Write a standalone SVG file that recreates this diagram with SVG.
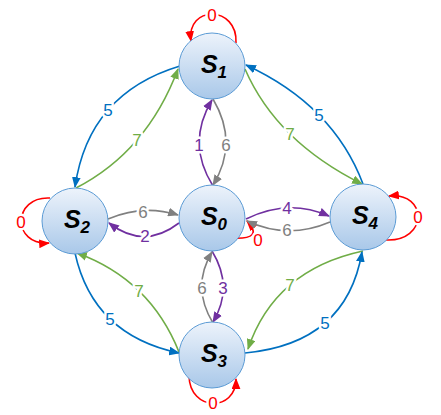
<svg xmlns="http://www.w3.org/2000/svg" width="441" height="415" viewBox="0 0 441 415">
<style>
.e{fill:none;stroke-width:1.6}
.r{stroke:#ff0000}.b{stroke:#0070c0}.g{stroke:#70ad47}.p{stroke:#7030a0}.k{stroke:#808080}
.l{font-family:"Liberation Sans",Arial,sans-serif;font-size:17px;text-anchor:middle;stroke:#fff;stroke-width:5;paint-order:stroke;stroke-linejoin:round}
.lr{fill:#ff0000}.lb{fill:#0070c0}.lg{fill:#70ad47}.lp{fill:#7030a0}.lk{fill:#808080}
.n{fill:url(#grad);stroke:#5b9bd5;stroke-width:1}
.t{font-family:"Liberation Sans",Arial,sans-serif;font-weight:bold;font-style:italic;font-size:25px;text-anchor:middle;fill:#000}
.s{font-size:17px}
</style>
<defs>
<linearGradient id="grad" x1="0" y1="0" x2="0" y2="1">
<stop offset="0" stop-color="#edf3fb"/>
<stop offset="1" stop-color="#a9c8e9"/>
</linearGradient>
<marker id="ar" viewBox="0 0 10 8" refX="9" refY="4" markerWidth="11" markerHeight="9" markerUnits="userSpaceOnUse" orient="auto"><path d="M0,0 L10,4 L0,8 z" fill="#ff0000"/></marker>
<marker id="ab" viewBox="0 0 10 8" refX="9" refY="4" markerWidth="11" markerHeight="9" markerUnits="userSpaceOnUse" orient="auto"><path d="M0,0 L10,4 L0,8 z" fill="#0070c0"/></marker>
<marker id="ag" viewBox="0 0 10 8" refX="9" refY="4" markerWidth="11" markerHeight="9" markerUnits="userSpaceOnUse" orient="auto"><path d="M0,0 L10,4 L0,8 z" fill="#70ad47"/></marker>
<marker id="ap" viewBox="0 0 10 8" refX="9" refY="4" markerWidth="11" markerHeight="9" markerUnits="userSpaceOnUse" orient="auto"><path d="M0,0 L10,4 L0,8 z" fill="#7030a0"/></marker>
<marker id="ak" viewBox="0 0 10 8" refX="9" refY="4" markerWidth="11" markerHeight="9" markerUnits="userSpaceOnUse" orient="auto"><path d="M0,0 L10,4 L0,8 z" fill="#808080"/></marker>
</defs>
<g id="connectors">
<!-- self loops -->
<path class="e r" d="M236,43 C238,5 186,5 191,41" marker-end="url(#ar)"/>
<text class="l lr" x="212" y="21">0</text>
<path class="e r" d="M50,198 C12,196 12,246 49,243" marker-end="url(#ar)"/>
<text class="l lr" x="21" y="228">0</text>
<path class="e r" d="M386,240 C428,242 428,192 389,196" marker-end="url(#ar)"/>
<text class="l lr" x="418" y="223">0</text>
<path class="e r" d="M189,376 C190,412 236,412 236,379" marker-end="url(#ar)"/>
<text class="l lr" x="213" y="409">0</text>
<path class="e r" d="M231,238 Q265,240 247,221" marker-end="url(#ar)"/>
<text class="l lr" x="258" y="246">0</text>
<!-- outer -->
<path class="e b" d="M180,66 Q88.5,93.5 75,187" marker-end="url(#ab)"/>
<text class="l lb" x="108" y="116">5</text>
<path class="e g" d="M76,188 Q147,151.5 178,69" marker-end="url(#ag)"/>
<text class="l lg" x="137" y="146">7</text>
<path class="e b" d="M363,184 Q333.5,105.5 246,65" marker-end="url(#ab)"/>
<text class="l lb" x="319" y="121">5</text>
<path class="e g" d="M245,69 Q276.5,141.5 362,184" marker-end="url(#ag)"/>
<text class="l lg" x="290" y="140">7</text>
<path class="e g" d="M179,352 Q150,279.5 77,253" marker-end="url(#ag)"/>
<text class="l lg" x="139" y="297">7</text>
<path class="e b" d="M75,253 Q93,335 179,353" marker-end="url(#ab)"/>
<text class="l lb" x="110" y="325">5</text>
<path class="e g" d="M363,251 Q274.5,270 248,349" marker-end="url(#ag)"/>
<text class="l lg" x="290" y="291">7</text>
<path class="e b" d="M245,353 Q346.5,343.5 362,252" marker-end="url(#ab)"/>
<text class="l lb" x="325" y="329">5</text>
<!-- center -->
<path class="e p" d="M213,186 Q186,143 212,100" marker-end="url(#ap)"/>
<text class="l lp" x="199" y="151">1</text>
<path class="e k" d="M213,99 Q239,143 213,185" marker-end="url(#ak)"/>
<text class="l lk" x="226" y="151">6</text>
<path class="e p" d="M212,251 Q234,287 213,322" marker-end="url(#ap)"/>
<text class="l lp" x="223" y="294">3</text>
<path class="e k" d="M213,323 Q191,287 212,252" marker-end="url(#ak)"/>
<text class="l lk" x="202" y="294">6</text>
<path class="e k" d="M108,219 Q143,204 178,215" marker-end="url(#ak)"/>
<text class="l lk" x="143" y="218">6</text>
<path class="e p" d="M179,223 Q144,250 109,223" marker-end="url(#ap)"/>
<text class="l lp" x="145" y="242">2</text>
<path class="e p" d="M246,219 Q288,198 329,216" marker-end="url(#ap)"/>
<text class="l lp" x="287" y="214">4</text>
<path class="e k" d="M330,222 Q288,240 247,221" marker-end="url(#ak)"/>
<text class="l lk" x="287" y="236">6</text>
</g>
<g id="S1"><circle class="n" cx="212" cy="66" r="33"/><text class="t" x="214" y="73">S<tspan class="s" dy="5">1</tspan></text></g>
<g id="S2"><circle class="n" cx="75" cy="221" r="33"/><text class="t" x="77" y="228">S<tspan class="s" dy="5">2</tspan></text></g>
<g id="S0"><circle class="n" cx="212" cy="218" r="33"/><text class="t" x="214" y="225">S<tspan class="s" dy="5">0</tspan></text></g>
<g id="S4"><circle class="n" cx="363" cy="217" r="33"/><text class="t" x="365" y="224">S<tspan class="s" dy="5">4</tspan></text></g>
<g id="S3"><circle class="n" cx="212" cy="355" r="33"/><text class="t" x="214" y="362">S<tspan class="s" dy="5">3</tspan></text></g>
</svg>
